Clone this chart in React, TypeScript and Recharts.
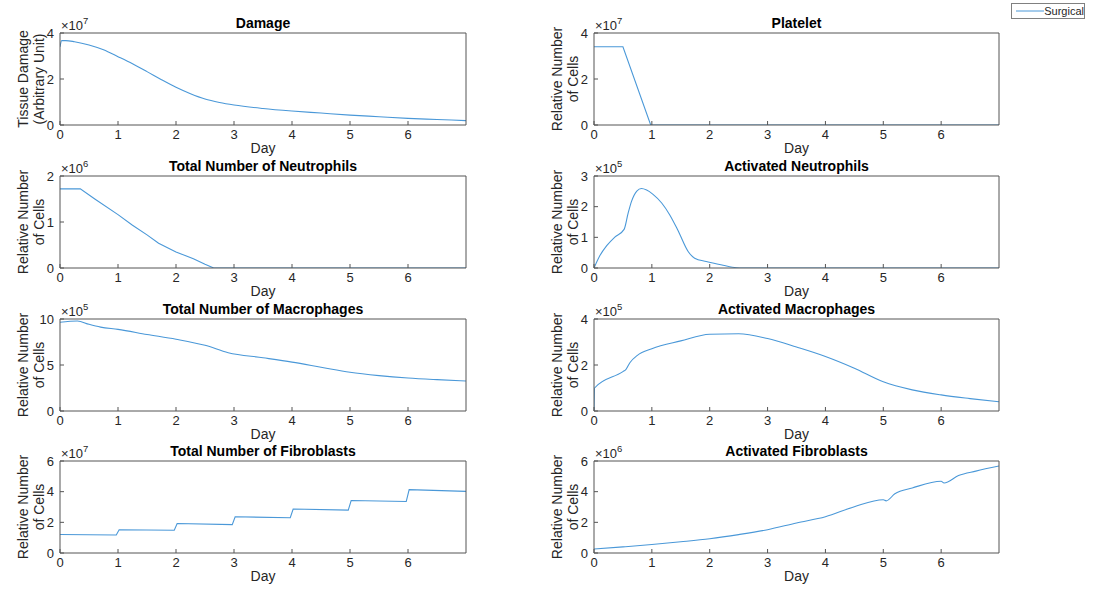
import React from 'react';
import { LineChart, Line, XAxis, YAxis, Label, Legend } from 'recharts';

// x axis (days) shared by every subplot
const dayTicks = [0, 1, 2, 3, 4, 5, 6];

// values are in the units printed by the exponent above each axis
const damageDays = [0, 0.03, 0.1, 0.25, 0.5, 0.75, 1, 1.25, 1.5, 1.75, 2, 2.25, 2.5, 2.75, 3, 3.5, 4, 4.5, 5, 5.5, 6, 6.5, 7];
const damageValues = [3.4, 3.67, 3.67, 3.62, 3.48, 3.27, 2.97, 2.66, 2.32, 1.97, 1.64, 1.36, 1.13, 0.98, 0.87, 0.72, 0.61, 0.52, 0.43, 0.36, 0.29, 0.24, 0.19];

const plateletDays = [0, 0.5, 0.98, 7];
const plateletValues = [3.4, 3.4, 0, 0];

const neutroDays = [0, 0.35, 0.6, 1, 1.25, 1.5, 1.7, 2, 2.3, 2.5, 2.65, 7];
const neutroValues = [1.72, 1.72, 1.5, 1.16, 0.93, 0.72, 0.54, 0.35, 0.2, 0.08, 0, 0];

const actNeutroDays = [0, 0.1, 0.22, 0.36, 0.52, 0.59, 0.65, 0.74, 0.82, 0.91, 1.02, 1.17, 1.31, 1.45, 1.63, 1.74, 1.94, 2.23, 2.46, 2.57, 7];
const actNeutroValues = [0, 0.4, 0.73, 1.01, 1.26, 1.79, 2.18, 2.51, 2.59, 2.54, 2.4, 2.12, 1.73, 1.23, 0.53, 0.32, 0.21, 0.09, 0.01, 0, 0];

const macroDays = [0, 0.3, 0.5, 0.7, 1, 1.5, 2, 2.5, 2.9, 3.5, 4, 4.5, 5, 5.5, 6, 6.5, 7];
const macroValues = [9.64, 9.78, 9.42, 9.12, 8.87, 8.32, 7.8, 7.14, 6.34, 5.79, 5.31, 4.76, 4.21, 3.85, 3.59, 3.41, 3.26];

const actMacroDays = [0, 0.01, 0.5, 0.55, 0.62, 0.75, 1, 1.5, 2, 2.5, 3, 3.5, 4, 4.5, 5, 5.5, 6, 6.5, 7];
const actMacroValues = [0, 1.0, 1.71, 1.8, 2.1, 2.42, 2.71, 3.05, 3.34, 3.36, 3.15, 2.78, 2.37, 1.86, 1.27, 0.92, 0.7, 0.54, 0.4];

const fibroDays = [0, 0.97, 1.02, 1.97, 2.02, 2.97, 3.02, 3.97, 4.02, 4.97, 5.02, 5.97, 6.02, 7];
const fibroValues = [1.21, 1.17, 1.52, 1.48, 1.92, 1.85, 2.36, 2.3, 2.87, 2.8, 3.42, 3.36, 4.13, 4.02];

const actFibroDays = [0, 0.5, 1, 1.5, 2, 2.5, 3, 3.5, 4, 4.5, 5, 5.05, 5.2, 5.5, 6, 6.05, 6.3, 6.6, 7];
const actFibroValues = [0.26, 0.4, 0.55, 0.73, 0.93, 1.2, 1.52, 1.96, 2.36, 3.02, 3.47, 3.4, 3.86, 4.24, 4.68, 4.57, 5.05, 5.34, 5.67];

const cellsLabel: [string, string] = ['Relative Number', 'of Cells'];

type PanelDef = {
    title: string;
    yLabel: [string, string];
    exp: number;
    yMax: number;
    yTicks: number[];
    days: number[];
    values: number[];
    curve: 'linear' | 'monotone';
    row: number;
    col: number;
    legend?: boolean;
};

const panels: PanelDef[] = [
    { title: 'Damage', yLabel: ['Tissue Damage', '(Arbitrary Unit)'], exp: 7, yMax: 4, yTicks: [0, 2, 4], days: damageDays, values: damageValues, curve: 'monotone', row: 0, col: 0 },
    { title: 'Platelet', yLabel: cellsLabel, exp: 7, yMax: 4, yTicks: [0, 2, 4], days: plateletDays, values: plateletValues, curve: 'linear', row: 0, col: 1, legend: true },
    { title: 'Total Number of Neutrophils', yLabel: cellsLabel, exp: 6, yMax: 2, yTicks: [0, 1, 2], days: neutroDays, values: neutroValues, curve: 'linear', row: 1, col: 0 },
    { title: 'Activated Neutrophils', yLabel: cellsLabel, exp: 5, yMax: 3, yTicks: [0, 1, 2, 3], days: actNeutroDays, values: actNeutroValues, curve: 'monotone', row: 1, col: 1 },
    { title: 'Total Number of Macrophages', yLabel: cellsLabel, exp: 5, yMax: 10, yTicks: [0, 5, 10], days: macroDays, values: macroValues, curve: 'monotone', row: 2, col: 0 },
    { title: 'Activated Macrophages', yLabel: cellsLabel, exp: 5, yMax: 4, yTicks: [0, 2, 4], days: actMacroDays, values: actMacroValues, curve: 'monotone', row: 2, col: 1 },
    { title: 'Total Number of Fibroblasts', yLabel: cellsLabel, exp: 7, yMax: 6, yTicks: [0, 2, 4, 6], days: fibroDays, values: fibroValues, curve: 'linear', row: 3, col: 0 },
    { title: 'Activated Fibroblasts', yLabel: cellsLabel, exp: 6, yMax: 6, yTicks: [0, 2, 4, 6], days: actFibroDays, values: actFibroValues, curve: 'monotone', row: 3, col: 1 },
];

const LINE = '#4a98d8';
const AXIS = '#555555';
const TEXT = '#262626';

const PLOT_TOP = 33;
const PLOT_H = 92;
const X_AXIS_H = 34;
const rowTops = [0, 143, 286, 428];
const cols = [
    { left: 0, width: 540, yAxisW: 60, plotW: 406 },
    { left: 540, width: 558, yAxisW: 54, plotW: 405 },
];

const Panel = ({ p }: { p: PanelDef }) => {
    const col = cols[p.col];
    const data = p.days.map((d, i) => ({ day: d, value: p.values[i] }));
    const plotLeft = col.yAxisW;
    const midY = PLOT_TOP + PLOT_H / 2;

    return (
        <div style={{ position: 'absolute', left: col.left, top: rowTops[p.row] }}>
            <LineChart
                width={col.width}
                height={PLOT_TOP + PLOT_H + X_AXIS_H}
                data={data}
                margin={{ top: PLOT_TOP - 1, right: col.width - col.yAxisW - col.plotW - 1, left: 0, bottom: 0 }}
            >
                <XAxis
                    xAxisId="bottom"
                    dataKey="day"
                    type="number"
                    domain={[0, 7]}
                    ticks={dayTicks}
                    interval={0}
                    allowDataOverflow
                    height={X_AXIS_H}
                    tickSize={-4}
                    tickMargin={9}
                    stroke={AXIS}
                    tick={{ fill: TEXT, fontSize: 13 }}
                >
                    <Label value="Day" position="insideBottom" offset={6} fill={TEXT} fontSize={14} />
                </XAxis>
                <XAxis
                    xAxisId="top"
                    orientation="top"
                    dataKey="day"
                    type="number"
                    domain={[0, 7]}
                    ticks={dayTicks}
                    interval={0}
                    allowDataOverflow
                    height={1}
                    tickSize={-4}
                    tick={false}
                    stroke={AXIS}
                >
                    <Label value={p.title} position="top" offset={4} fill="#000" fontSize={14} fontWeight="bold" />
                </XAxis>
                <YAxis
                    yAxisId="left"
                    type="number"
                    domain={[0, p.yMax]}
                    ticks={p.yTicks}
                    interval={0}
                    allowDataOverflow
                    width={col.yAxisW}
                    tickSize={-4}
                    tickMargin={10}
                    stroke={AXIS}
                    tick={{ fill: TEXT, fontSize: 13 }}
                >
                    <Label
                        content={() => (
                            <g>
                                <text x={plotLeft + 1} y={PLOT_TOP - 3} fill={TEXT} fontSize={13}>
                                    ×10<tspan dy={-6} fontSize={9.5}>{p.exp}</tspan>
                                </text>
                                <text x={plotLeft - 37} y={midY} transform={`rotate(-90, ${plotLeft - 37}, ${midY})`} textAnchor="middle" dominantBaseline="central" fill={TEXT} fontSize={14}>
                                    {p.yLabel[0]}
                                </text>
                                <text x={plotLeft - 21} y={midY} transform={`rotate(-90, ${plotLeft - 21}, ${midY})`} textAnchor="middle" dominantBaseline="central" fill={TEXT} fontSize={14}>
                                    {p.yLabel[1]}
                                </text>
                            </g>
                        )}
                    />
                </YAxis>
                <YAxis
                    yAxisId="right"
                    orientation="right"
                    type="number"
                    domain={[0, p.yMax]}
                    ticks={p.yTicks}
                    interval={0}
                    allowDataOverflow
                    width={1}
                    tickSize={-4}
                    tick={false}
                    stroke={AXIS}
                />
                {p.legend && (
                    <Legend
                        layout="horizontal"
                        verticalAlign="middle"
                        align="center"
                        wrapperStyle={{ left: 471, top: 3, width: 74, height: 16 }}
                        content={({ payload }) => (
                            <div style={{ boxSizing: 'border-box', width: 74, height: 16, border: '1px solid #808080', background: '#fff', display: 'flex', alignItems: 'center', fontSize: 11, color: TEXT }}>
                                <svg width={40} height={10} style={{ display: 'block' }}>
                                    <line x1={4} y1={5} x2={38} y2={5} stroke={LINE} strokeWidth={1} />
                                </svg>
                                <span>{payload && payload[0] ? String(payload[0].value) : 'Surgical'}</span>
                            </div>
                        )}
                    />
                )}
                <Line
                    xAxisId="bottom"
                    yAxisId="left"
                    type={p.curve}
                    dataKey="value"
                    name="Surgical"
                    stroke={LINE}
                    strokeWidth={1.1}
                    dot={false}
                    activeDot={false}
                    isAnimationActive={false}
                />
            </LineChart>
        </div>
    );
};

const App = () => (
    <div style={{ position: 'absolute', left: 0, top: 0, width: 1098, height: 590, background: '#fff', fontFamily: '"Liberation Sans", Arial, sans-serif' }}>
        {panels.map(p => (
            <Panel key={p.title} p={p} />
        ))}
    </div>
);

export default App;
